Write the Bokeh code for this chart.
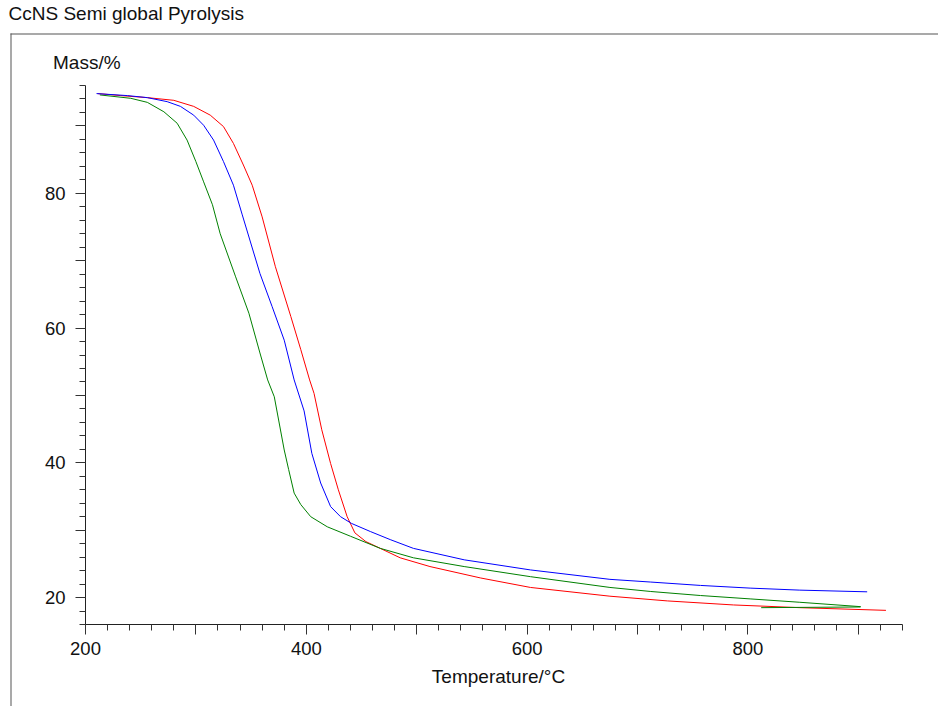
from bokeh.plotting import figure
from bokeh.models import Range1d, FixedTicker, Label, BoxAnnotation
from bokeh.embed import file_html
from bokeh.resources import INLINE

# ---- data ----
red_T = [211, 232, 256, 280, 298, 313, 325, 334, 343, 351, 360, 372, 386, 395, 403, 407, 414, 422, 429, 437, 444, 454, 467, 485, 512, 558, 603, 675, 727, 787, 847, 925]
red_M = [94.8, 94.5, 94.2, 93.8, 92.9, 91.6, 89.9, 87.4, 84.2, 81.2, 76.5, 69.1, 61.7, 56.8, 52.3, 50.3, 44.9, 39.9, 36.0, 32.0, 29.6, 28.3, 27.3, 25.9, 24.6, 22.9, 21.5, 20.2, 19.5, 18.9, 18.5, 18.1]

blue_T = [210, 238, 256, 274, 286, 298, 307, 316, 325, 334, 342, 358, 369, 380, 389, 398, 405, 413, 422, 431, 441, 458, 476, 497, 543, 603, 675, 712, 757, 802, 847, 908]
blue_M = [94.8, 94.5, 94.2, 93.6, 92.9, 91.6, 90.1, 87.9, 84.7, 81.2, 76.8, 68.1, 63.2, 58.2, 52.3, 47.7, 41.4, 37.0, 33.5, 32.0, 31.0, 29.8, 28.6, 27.3, 25.6, 24.1, 22.7, 22.3, 21.8, 21.4, 21.1, 20.85]

green_T = [213, 241, 256, 271, 283, 292, 300, 307, 315, 322, 336, 348, 358, 365, 371, 380, 384, 389, 395, 404, 419, 440, 467, 497, 543, 603, 675, 712, 757, 802, 847, 902, 902, 812]
green_M = [94.6, 94.1, 93.5, 92.1, 90.4, 87.9, 84.7, 81.7, 78.3, 74.0, 67.6, 62.2, 56.3, 52.3, 49.8, 41.9, 39.0, 35.5, 33.8, 32.0, 30.5, 29.1, 27.3, 25.9, 24.6, 23.1, 21.5, 20.9, 20.3, 19.8, 19.3, 18.65, 18.6, 18.5]

x_axis_span = (200, 940)
y_axis_span = (16, 96)
x_major = [200, 300, 400, 500, 600, 700, 800, 900]
x_minor = list(range(200, 941, 20))
x_hidden = [300, 500, 700, 900]
y_major = [20, 30, 40, 50, 60, 70, 80, 90]
y_minor = list(range(16, 97, 2))
y_hidden = [30, 50, 70, 90]

title_text = "CcNS Semi global Pyrolysis"
y_title = "Mass/%"
x_title = "Temperature/°C"

FONT = "Liberation Sans"
W, H = 938, 706
# pixel box of the axes inside the canvas
AX_L, AX_T, AX_R, AX_B = 85, 85, 902, 624

# ranges chosen so that the axes box lands at the pixel box above, while the
# plot frame covers the whole canvas (so texts and the outer border are not clipped)
xs = (AX_R - AX_L) / (x_axis_span[1] - x_axis_span[0])
ys = (AX_B - AX_T) / (y_axis_span[1] - y_axis_span[0])
x_range = Range1d(x_axis_span[0] - AX_L / xs, x_axis_span[0] + (W - AX_L) / xs)
y_range = Range1d(y_axis_span[0] - (H - AX_B) / ys, y_axis_span[1] + AX_T / ys)

p = figure(width=W, height=H, x_range=x_range, y_range=y_range,
           output_backend="svg", toolbar_location=None,
           min_border_left=0, min_border_top=0, min_border_right=0, min_border_bottom=0)
p.outline_line_color = None
p.xgrid.visible = False
p.ygrid.visible = False
p.background_fill_color = "white"
p.border_fill_color = "white"

p.line(red_T, red_M, line_color="#ff0000", line_width=1)
p.line(green_T, green_M, line_color="#008000", line_width=1)
p.line(blue_T, blue_M, line_color="#0000ff", line_width=1)

p.xaxis.fixed_location = y_axis_span[0]
p.yaxis.fixed_location = x_axis_span[0]
p.xaxis.bounds = x_axis_span
p.yaxis.bounds = y_axis_span

for ax, maj, mnr, hid in ((p.xaxis[0], x_major, x_minor, x_hidden),
                          (p.yaxis[0], y_major, y_minor, y_hidden)):
    ax.ticker = FixedTicker(ticks=maj, minor_ticks=mnr)
    ax.major_label_overrides = {v: "" for v in hid}
    ax.major_tick_out = 10
    ax.major_tick_in = 0
    ax.minor_tick_out = 6
    ax.minor_tick_in = 0
    ax.axis_line_color = "#222222"
    ax.major_tick_line_color = "#333333"
    ax.minor_tick_line_color = "#333333"
    ax.major_label_text_font = FONT
    ax.major_label_text_font_size = "18.5px"
    ax.major_label_text_color = "#111111"

p.xaxis.major_label_standoff = 7
p.yaxis.major_label_standoff = 10

# outer chart border: only its top and left edges fall inside the window
BORDER = "#555555"
p.add_layout(BoxAnnotation(left=10, right=W + 50, top=H - 33, bottom=H - 34,
                           left_units="screen", right_units="screen",
                           top_units="screen", bottom_units="screen",
                           fill_color=BORDER, fill_alpha=1, line_color=None))
p.add_layout(BoxAnnotation(left=10, right=11, top=H - 33, bottom=-50,
                           left_units="screen", right_units="screen",
                           top_units="screen", bottom_units="screen",
                           fill_color=BORDER, fill_alpha=1, line_color=None))

p.add_layout(Label(x=8, y=H - 13, x_units="screen", y_units="screen",
                   text=title_text, text_font=FONT, text_font_size="19px",
                   text_color="#111111", text_baseline="alphabetic", text_align="left"))
p.add_layout(Label(x=52.5, y=H - 62, x_units="screen", y_units="screen",
                   text=y_title, text_font=FONT, text_font_size="19px",
                   text_color="#111111", text_baseline="alphabetic", text_align="left"))
p.add_layout(Label(x=498, y=H - 676, x_units="screen", y_units="screen",
                   text=x_title, text_font=FONT, text_font_size="19px",
                   text_color="#111111", text_baseline="alphabetic", text_align="center"))

open("out.html", "w").write(file_html(p, INLINE))
